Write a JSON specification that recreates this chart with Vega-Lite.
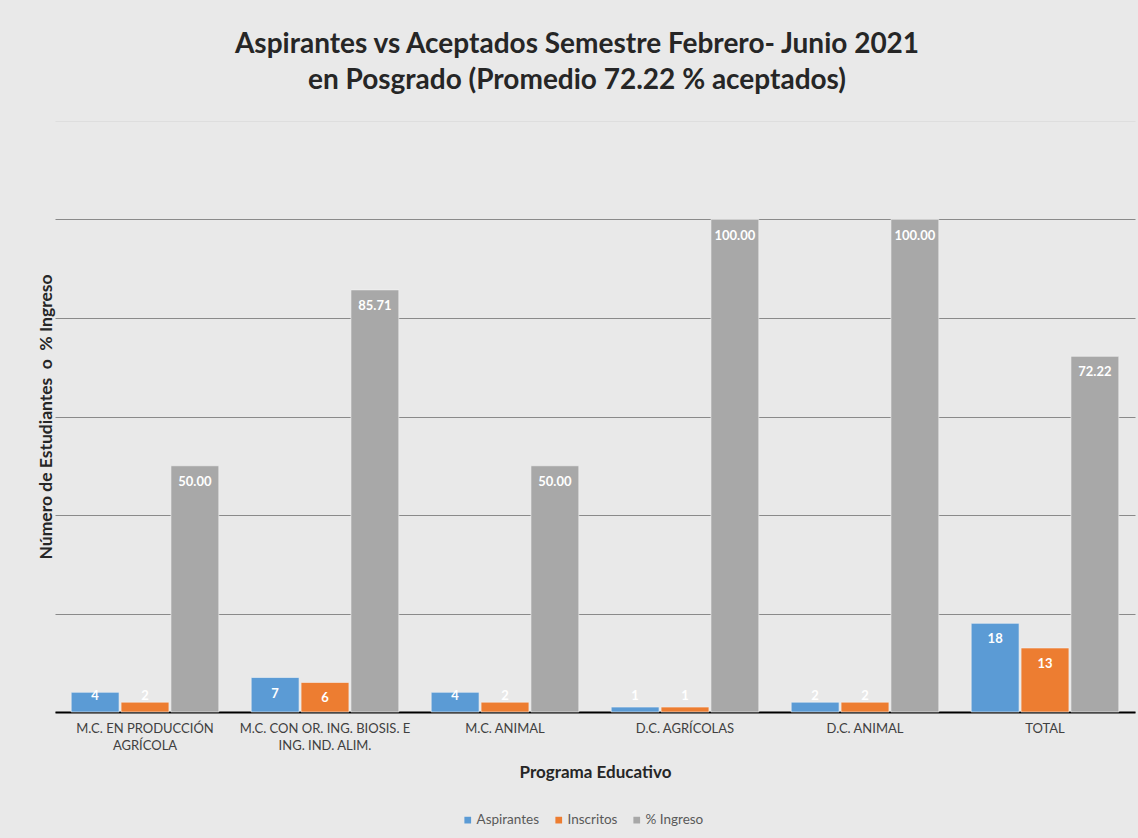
{
  "$schema": "https://vega.github.io/schema/vega-lite/v6.json",
  "width": 1080,
  "height": 591,
  "autosize": {"type": "none"},
  "padding": {"left": 55, "top": 121, "right": 3, "bottom": 126},
  "background": "#e9e9e9",
  "title": {
    "text": ["Aspirantes vs Aceptados Semestre Febrero- Junio 2021", "en Posgrado (Promedio 72.22 % aceptados)"],
    "font": "Lato",
    "fontSize": 28,
    "fontWeight": "bold",
    "color": "#262626",
    "lineHeight": 36,
    "anchor": "middle",
    "dx": -18,
    "offset": 26
  },
  "config": {"view": {"stroke": null}, "font": "Lato"},
  "data": {
    "values": [
      {"programa": "M.C. EN PRODUCCIÓN AGRÍCOLA", "serie": "Aspirantes", "valor": 4, "etiqueta": "4"},
      {"programa": "M.C. EN PRODUCCIÓN AGRÍCOLA", "serie": "Inscritos", "valor": 2, "etiqueta": "2"},
      {"programa": "M.C. EN PRODUCCIÓN AGRÍCOLA", "serie": "% Ingreso", "valor": 50.0, "etiqueta": "50.00"},
      {"programa": "M.C. CON OR. ING. BIOSIS. E ING. IND. ALIM.", "serie": "Aspirantes", "valor": 7, "etiqueta": "7"},
      {"programa": "M.C. CON OR. ING. BIOSIS. E ING. IND. ALIM.", "serie": "Inscritos", "valor": 6, "etiqueta": "6"},
      {"programa": "M.C. CON OR. ING. BIOSIS. E ING. IND. ALIM.", "serie": "% Ingreso", "valor": 85.71, "etiqueta": "85.71"},
      {"programa": "M.C. ANIMAL", "serie": "Aspirantes", "valor": 4, "etiqueta": "4"},
      {"programa": "M.C. ANIMAL", "serie": "Inscritos", "valor": 2, "etiqueta": "2"},
      {"programa": "M.C. ANIMAL", "serie": "% Ingreso", "valor": 50.0, "etiqueta": "50.00"},
      {"programa": "D.C. AGRÍCOLAS", "serie": "Aspirantes", "valor": 1, "etiqueta": "1"},
      {"programa": "D.C. AGRÍCOLAS", "serie": "Inscritos", "valor": 1, "etiqueta": "1"},
      {"programa": "D.C. AGRÍCOLAS", "serie": "% Ingreso", "valor": 100.0, "etiqueta": "100.00"},
      {"programa": "D.C. ANIMAL", "serie": "Aspirantes", "valor": 2, "etiqueta": "2"},
      {"programa": "D.C. ANIMAL", "serie": "Inscritos", "valor": 2, "etiqueta": "2"},
      {"programa": "D.C. ANIMAL", "serie": "% Ingreso", "valor": 100.0, "etiqueta": "100.00"},
      {"programa": "TOTAL", "serie": "Aspirantes", "valor": 18, "etiqueta": "18"},
      {"programa": "TOTAL", "serie": "Inscritos", "valor": 13, "etiqueta": "13"},
      {"programa": "TOTAL", "serie": "% Ingreso", "valor": 72.22, "etiqueta": "72.22"}
    ]
  },
  "encoding": {
    "x": {
      "field": "programa",
      "type": "nominal",
      "sort": null,
      "scale": {"paddingInner": 0.18, "paddingOuter": 0.09},
      "axis": {
        "title": "Programa Educativo",
        "titleFont": "Lato",
        "titleFontSize": 17,
        "titleFontWeight": "bold",
        "titleColor": "#262626",
        "titlePadding": 12,
        "labelAngle": 0,
        "labelFont": "Lato",
        "labelFontSize": 13,
        "labelColor": "#404040",
        "labelPadding": 10,
        "labelLineHeight": 17,
        "labelExpr": "datum.value == 'M.C. EN PRODUCCIÓN AGRÍCOLA' ? ['M.C. EN PRODUCCIÓN', 'AGRÍCOLA'] : datum.value == 'M.C. CON OR. ING. BIOSIS. E ING. IND. ALIM.' ? ['M.C. CON OR. ING. BIOSIS. E', 'ING. IND. ALIM.'] : datum.label",
        "ticks": false,
        "domainColor": "#000000",
        "domainWidth": 2,
        "grid": false
      }
    },
    "xOffset": {
      "field": "serie",
      "type": "nominal",
      "sort": ["Aspirantes", "Inscritos", "% Ingreso"],
      "scale": {"paddingInner": 0.04, "paddingOuter": 0}
    }
  },
  "layer": [
    {
      "mark": {"type": "bar", "stroke": "#f4f4f4", "strokeWidth": 1, "strokeOpacity": 0.6},
      "encoding": {
        "y": {
          "field": "valor",
          "type": "quantitative",
          "scale": {"domain": [0, 120], "nice": false},
          "axis": {
            "title": "Número de Estudiantes \u00a0o \u00a0% Ingreso",
            "titleFont": "Lato",
            "titleFontSize": 17.5,
            "titleFontWeight": "bold",
            "titleColor": "#262626",
            "titlePadding": 0,
            "labels": false,
            "ticks": false,
            "domain": false,
            "values": [0, 20, 40, 60, 80, 100, 120],
            "grid": true,
            "gridColor": {"condition": {"test": "datum.value == 120", "value": "#dedede"}, "value": "#8a8a8a"},
            "gridWidth": 1.2
          }
        },
        "color": {
          "field": "serie",
          "type": "nominal",
          "scale": {"domain": ["Aspirantes", "Inscritos", "% Ingreso"], "range": ["#5b9bd5", "#ed7d31", "#a8a8a8"]},
          "legend": {
            "title": null,
            "orient": "none",
            "legendX": 406,
            "legendY": 692,
            "direction": "horizontal",
            "symbolType": "square",
            "symbolSize": 45,
            "symbolStrokeWidth": 0,
            "labelOffset": 2,
            "labelFont": "Lato",
            "labelFontSize": 13.5,
            "labelColor": "#595959",
            "columnPadding": 12
          }
        }
      }
    },
    {
      "transform": [{"filter": "datum.valor >= 5"}],
      "mark": {"type": "text", "color": "white", "fontWeight": "bold", "fontSize": 13, "font": "Lato", "baseline": "middle", "dy": 16},
      "encoding": {
        "y": {"field": "valor", "type": "quantitative"},
        "text": {"field": "etiqueta"}
      }
    },
    {
      "transform": [{"filter": "datum.valor < 5"}],
      "mark": {"type": "text", "color": "white", "fontWeight": "bold", "fontSize": 13, "font": "Lato", "baseline": "middle"},
      "encoding": {
        "y": {"datum": 3.3, "type": "quantitative"},
        "text": {"field": "etiqueta"}
      }
    }
  ]
}
